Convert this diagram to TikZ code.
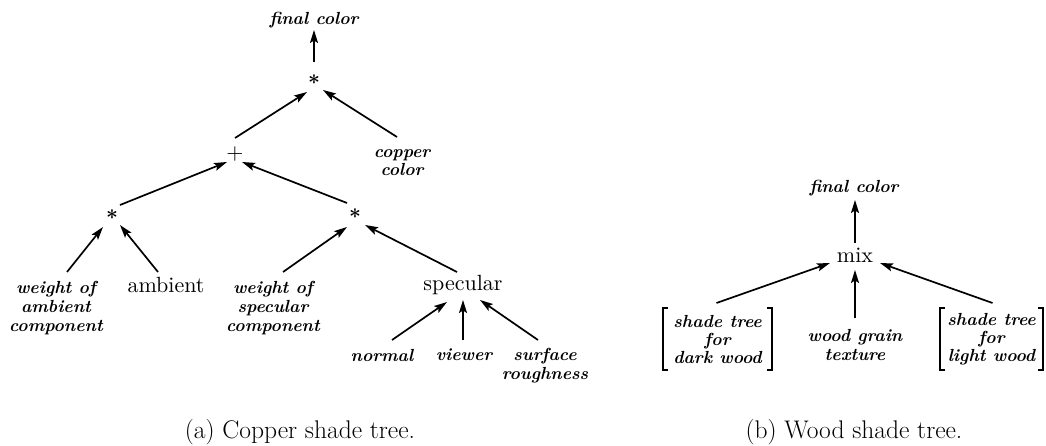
\documentclass[tikz,border=0pt]{standalone}
\usepackage{fontspec}
\newfontfamily\lmten{lmroman10-regular.otf}
\usetikzlibrary{arrows.meta}
\begin{document}
\begin{tikzpicture}[x=1pt,y=-1pt,
  lab/.style={font=\fontsize{17.5}{19}\selectfont\bfseries\itshape, align=center, inner sep=0pt},
  op/.style={font=\lmten\fontsize{22}{22}\selectfont, inner sep=0pt},
  staro/.style={font=\fontsize{20}{20}\selectfont\boldmath, inner sep=0pt},
  arr/.style={-{Stealth[length=13pt,width=8pt,inset=2.5pt]}, line width=1.7pt},
  brk/.style={line width=1.5pt},
  captxt/.style={font=\fontsize{25.5}{28}\selectfont, inner sep=0pt},
  bracketbox/.style={minimum height=62pt, inner sep=0pt, align=center, font=\fontsize{17.5}{18}\selectfont\bfseries\itshape}
]
\useasboundingbox (0,0) rectangle (1046,446);

% ---------------- (a) copper ----------------
\node[lab] (fc1) at (314,20) {final color};
\node[staro] (m1) at (314,80) {$\ast$};
\node[lab] (cc) at (402,163) {copper\\[-1pt]color};
\node[op] (p) at (235,154) {+};
\node[staro] (m2) at (112,215) {$\ast$};
\node[staro] (m3) at (355,214) {$\ast$};
\node[lab] (wa) at (56,308) {weight of\\ambient\\component};
\node[op] (amb) at (166,285) {ambient};
\node[lab] (ws) at (273,308) {weight of\\specular\\component};
\node[op] (spec) at (463,285) {specular};
\node[lab] (nor) at (382,355) {normal};
\node[lab] (vie) at (464,355) {viewer};
\node[lab] (sr) at (545,366) {surface\\roughness};

\draw[arr] ([shift={(0,-18)}]m1.center) -- ([shift={(0,10)}]fc1.center);
\draw[arr] ([shift={(0,-16)}]p.center) -- ([shift={(-7,12)}]m1.center);
\draw[arr] ([shift={(-5,-26)}]cc.center) -- ([shift={(9,10)}]m1.center);
\draw[arr] ([shift={(8,-10)}]m2.center) -- ([shift={(-8,8)}]p.center);
\draw[arr] ([shift={(-8,-11)}]m3.center) -- ([shift={(7,8)}]p.center);
\draw[arr] ([shift={(11,-36)}]wa.center) -- ([shift={(-9,12)}]m2.center);
\draw[arr] ([shift={(-8,-13)}]amb.center) -- ([shift={(8,10)}]m2.center);
\draw[arr] ([shift={(10,-36)}]ws.center) -- ([shift={(-8,13)}]m3.center);
\draw[arr] ([shift={(-6,-13)}]spec.center) -- ([shift={(10,11)}]m3.center);
\draw[arr] ([shift={(10,-15)}]nor.center) -- ([shift={(-16,17)}]spec.center);
\draw[arr] ([shift={(-1,-15)}]vie.center) -- ([shift={(0,15)}]spec.center);
\draw[arr] ([shift={(-7,-26)}]sr.center) -- ([shift={(17,15)}]spec.center);

\node[captxt] (capa) at (300,432) {(a) Copper shade tree.};

% ---------------- (b) wood ----------------
\node[lab] (fc2) at (854,188) {final color};
\node[op] (mix) at (855,255) {mix};
\node[bracketbox, minimum width=109pt] (dw) at (717.5,339) {shade tree\\for\\dark wood};
\node[lab] (wg) at (855,345) {wood grain\\texture};
\node[bracketbox, minimum width=103pt] (lw) at (991.5,339) {shade tree\\for\\light wood};

\draw[brk] ([xshift=5pt]dw.north west) -- (dw.north west) -- (dw.south west) -- ([xshift=5pt]dw.south west);
\draw[brk] ([xshift=-5pt]dw.north east) -- (dw.north east) -- (dw.south east) -- ([xshift=-5pt]dw.south east);
\draw[brk] ([xshift=5pt]lw.north west) -- (lw.north west) -- (lw.south west) -- ([xshift=5pt]lw.south west);
\draw[brk] ([xshift=-5pt]lw.north east) -- (lw.north east) -- (lw.south east) -- ([xshift=-5pt]lw.south east);

\draw[arr] ([shift={(0,-12)}]mix.center) -- ([shift={(1,12)}]fc2.center);
\draw[arr] ([shift={(-1,-36)}]dw.center) -- ([shift={(-25,8)}]mix.center);
\draw[arr] ([shift={(0,-27)}]wg.center) -- ([shift={(0,15)}]mix.center);
\draw[arr] ([shift={(1,-36)}]lw.center) -- ([shift={(25,8)}]mix.center);

\node[captxt] (capb) at (854,432) {(b) Wood shade tree.};
\end{tikzpicture}
\end{document}
